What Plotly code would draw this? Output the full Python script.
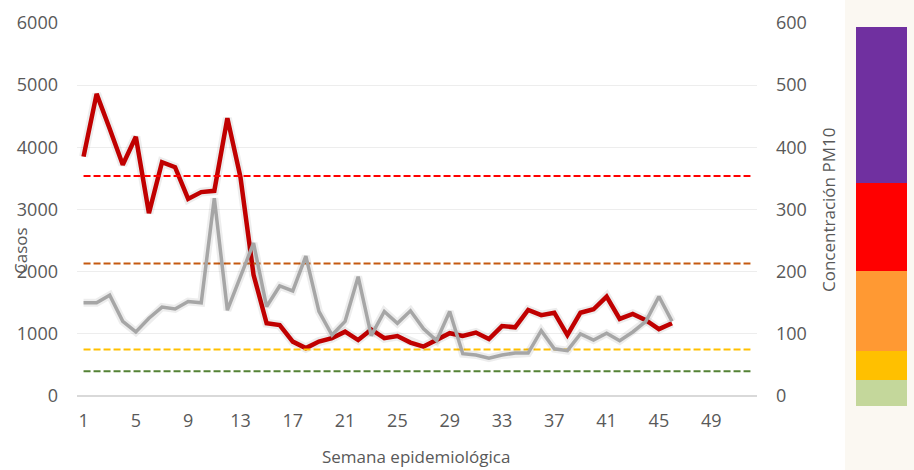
import plotly.graph_objects as go

WEEKS = list(range(1, 47))
CASOS = [3850, 4860, 4300, 3720, 4170, 2940, 3760, 3680, 3170, 3280,
         3300, 4470, 3520, 1950, 1170, 1140, 875, 770, 875, 930,
         1035, 900, 1070, 930, 965, 860, 795, 900, 1010, 965,
         1020, 915, 1125, 1105, 1385, 1300, 1340, 980, 1340, 1395,
         1600, 1240, 1320, 1220, 1075, 1170]
PM10 = [150, 150, 162, 120, 103, 125, 143, 140, 152, 150,
        318, 138, 192, 246, 144, 177, 169, 225, 136, 98,
        120, 192, 97, 136, 117, 137, 108, 89, 136, 68,
        66, 61, 66, 69, 69, 105, 76, 73, 100, 90,
        101, 89, 103, 120, 160, 120]
XTICKS = list(range(1, 53, 4))
LEFT_TICKS = [0, 1000, 2000, 3000, 4000, 5000, 6000]
RIGHT_TICKS = [0, 100, 200, 300, 400, 500, 600]

# umbrales PM10 (eje derecho)
THRESHOLDS = [40, 75, 213, 354]
THRESHOLD_COLORS = ["#548235", "#FFC000", "#C55A11", "#FF0000"]

# barra de colores a la derecha
BAND_SIZES = [26, 29, 80, 88, 156]
BAND_COLORS = ["#C4D79B", "#FFC000", "#FF9933", "#FF0000", "#7030A0"]

TXT = "#595959"
FONT = "Open Sans"

W, H = 914, 470
L, R, T, B = 77, 7, 23, 64
PW, PH = W - L - R, H - T - B


def px_x(x):
    return (x - L) / PW


def px_y(y):
    return (H - B - y) / PH


fig = go.Figure()

for val, col in zip(THRESHOLDS, THRESHOLD_COLORS):
    fig.add_trace(go.Scatter(
        x=[1, 52], y=[val, val], mode="lines", yaxis="y2",
        line=dict(color=col, width=2, dash="7px,3px"),
        hoverinfo="skip", showlegend=False,
    ))

# sombra suave
fig.add_trace(go.Scatter(x=WEEKS, y=PM10, yaxis="y2", mode="lines",
                         line=dict(color="rgba(0,0,0,0.07)", width=8),
                         hoverinfo="skip", showlegend=False))
fig.add_trace(go.Scatter(x=WEEKS, y=CASOS, mode="lines",
                         line=dict(color="rgba(0,0,0,0.07)", width=9),
                         hoverinfo="skip", showlegend=False))

fig.add_trace(go.Scatter(x=WEEKS, y=PM10, yaxis="y2", mode="lines",
                         name="PM10", line=dict(color="#A6A6A6", width=3.5),
                         showlegend=False))
fig.add_trace(go.Scatter(x=WEEKS, y=CASOS, mode="lines", name="Casos",
                         line=dict(color="#C00000", width=4.5),
                         showlegend=False))

for size, col in zip(BAND_SIZES, BAND_COLORS):
    fig.add_trace(go.Bar(x=[0], y=[size], xaxis="x3", yaxis="y3",
                         marker=dict(color=col, line=dict(width=0)),
                         width=1, hoverinfo="skip", showlegend=False))

x_dom = [0, px_x(757)]
y_dom = [px_y(396), px_y(23)]

fig.update_layout(
    width=W, height=H,
    margin=dict(l=L, r=R, t=T, b=B),
    paper_bgcolor="white", plot_bgcolor="white",
    font=dict(family=FONT, color=TXT),
    barmode="stack",
    xaxis=dict(domain=x_dom, range=[0.5, 52.5], tickvals=XTICKS,
               showgrid=False, zeroline=False, showline=False,
               ticks="", ticklabelstandoff=12,
               tickfont=dict(size=18, color=TXT)),
    yaxis=dict(domain=y_dom, range=[0, 6000], tickvals=LEFT_TICKS,
               showgrid=True, gridcolor="#EDEDED", gridwidth=1,
               zeroline=True, zerolinecolor="#D9D9D9", zerolinewidth=2,
               ticks="", ticklabelstandoff=18,
               tickfont=dict(size=18, color=TXT)),
    yaxis2=dict(overlaying="y", side="right", anchor="x", range=[0, 600],
                tickvals=RIGHT_TICKS, showgrid=False, zeroline=False,
                ticks="", ticklabelstandoff=18,
                tickfont=dict(size=18, color=TXT)),
    xaxis3=dict(domain=[px_x(856), px_x(907)], anchor="y3", range=[-0.5, 0.5],
                visible=False, fixedrange=True),
    yaxis3=dict(domain=[px_y(406), px_y(27)], anchor="x3",
                range=[0, sum(BAND_SIZES)], visible=False, fixedrange=True),
    shapes=[dict(type="rect", xref="paper", yref="paper",
                 x0=px_x(845), x1=px_x(W + 5), y0=px_y(H + 5), y1=px_y(-5),
                 fillcolor="#FBF8F2", line=dict(width=0), layer="below")],
    annotations=[
        dict(text="Casos", xref="paper", yref="paper", x=px_x(20), y=px_y(251),
             xanchor="center", yanchor="middle",
             showarrow=False, textangle=-90, font=dict(size=17, color=TXT)),
        dict(text="Concentración PM10", xref="paper", yref="paper",
             x=px_x(828), y=px_y(210), xanchor="center", yanchor="middle",
             showarrow=False, textangle=-90,
             font=dict(size=17, color=TXT)),
        dict(text="Semana epidemiológica", xref="paper", yref="paper",
             x=px_x(416), y=px_y(456), xanchor="center", yanchor="middle",
             showarrow=False, font=dict(size=17, color=TXT)),
    ],
)

fig.write_html("out.html",
               config={"displayModeBar": False},
               post_script="document.body.style.margin='0';")
